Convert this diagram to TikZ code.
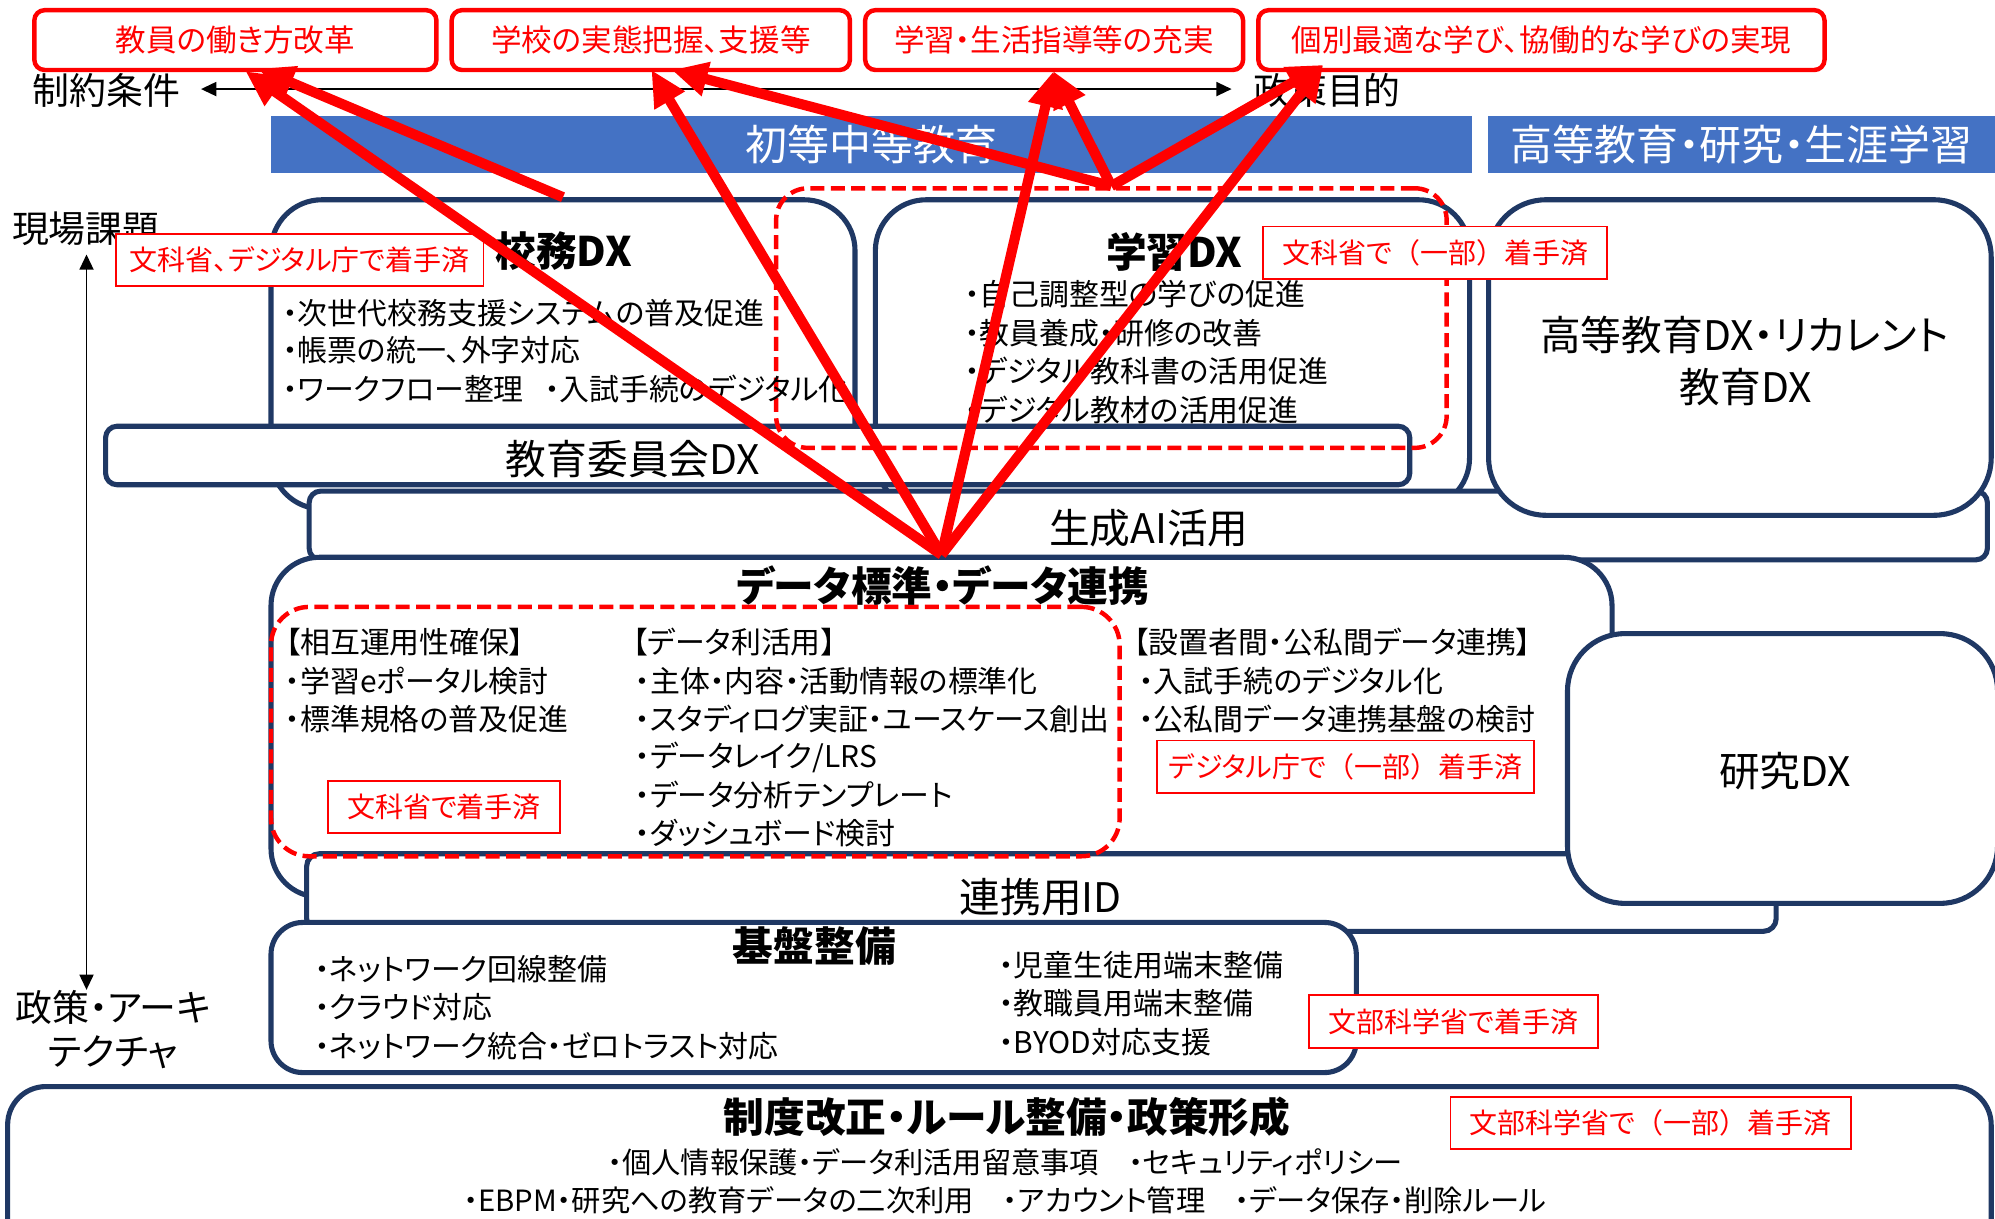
\documentclass[tikz,border=0pt]{standalone}
\usepackage{fontspec}
\setmainfont{Noto Sans CJK JP}[RawFeature=+palt]
\newfontfamily\nopalt{Noto Sans CJK JP}
\usetikzlibrary{arrows.meta,fit}
\definecolor{navy}{RGB}{31,56,100}
\definecolor{bannerblue}{RGB}{68,114,196}
\definecolor{pred}{RGB}{255,0,0}
\newcommand{\myfs}[1]{\fontsize{#1pt}{#1pt}\selectfont}
\newcommand{\lpar}{{\nopalt （}}
\newcommand{\rpar}{{\nopalt ）}}
\begin{document}
\begin{tikzpicture}[x=1pt,y=-1pt,
  navybox/.style={draw=navy,line width=4pt,fill=white,inner sep=0pt},
  goalbox/.style={draw=pred,line width=3.5pt,rounded corners=8pt,fill=white,text=pred,font=\myfs{24},minimum height=47pt,inner sep=0pt},
  donelabel/.style={draw=pred,line width=1.5pt,fill=white,text=pred,font=\myfs{22},minimum height=41pt,inner sep=0pt},
  bullet/.style={anchor=west,font=\myfs{23.5},inner sep=0pt},
  bigtext/.style={font=\myfs{32},inner sep=0pt},
  titletext/.style={font=\bfseries\myfs{32},inner sep=0pt},
  axislabel/.style={font=\myfs{29},inner sep=0pt},
  bannerbox/.style={fill=bannerblue,text=white,font=\myfs{33},minimum height=45pt,inner sep=0pt},
  redarrow/.style={draw=pred,line width=8pt,-{Triangle[length=28pt,width=26pt]}},
  axisarrow/.style={draw=black,line width=1.5pt,{Triangle[length=12pt,width=11pt]}-{Triangle[length=12pt,width=11pt]}},
  reddash/.style={draw=pred,line width=3.5pt,dash pattern=on 11pt off 5pt,inner sep=0pt},
]
\useasboundingbox (0,0) rectangle (1568,958);
\clip (0,0) rectangle (1568,958);

% banners
\node[bannerbox,minimum width=944pt] (ban1) at (685,113.5) {初等中等教育};
\node[bannerbox,minimum width=420pt,anchor=west] (ban2) at (1169,113.5) {};
\node[font=\myfs{33},text=white,inner sep=0pt] (ban2t) at (1369,113.5) {高等教育・研究・生涯学習};

% boxes
\node[navybox,rounded corners=40pt,fit={(213,157) (672,400)}] (koumu) {};
\node[navybox,rounded corners=40pt,fit={(688,157) (1155,400)}] (gakushu) {};
\node[navybox,rounded corners=9pt,fit={(83,335) (1108,381)}] (kyoiku) {};
\node[reddash,rounded corners=25pt,fit={(610,148) (1137,352)}] (dash1) {};
\node[navybox,rounded corners=9pt,fit={(243,386) (1562,440)}] (genai) {};
\node[navybox,rounded corners=45pt,fit={(1170,157) (1565,405)}] (koto) {};
\node[navybox,rounded corners=38pt,fit={(213,438) (1267,705)}] (data) {};
\node[navybox,rounded corners=10pt,fit={(241,671) (1396,732)}] (renkei) {};
\node[reddash,rounded corners=30pt,fit={(213,477) (880,673)}] (dash2) {};
\node[navybox,rounded corners=45pt,fit={(1232,498) (1570,710)}] (kenkyu) {};
\node[navybox,rounded corners=25pt,fit={(213,725) (1066,843)}] (kiban) {};
\node[navybox,rounded corners=30pt,fit={(6,854) (1565,1000)}] (seido) {};

% axis labels
\node[axislabel] (seiyaku) at (83.5,71) {制約条件};
\node[axislabel] (seisaku) at (1043,71) {政策目的};
\node[axislabel] (genba) at (67.5,180) {現場課題};
\node[axislabel] (arch1) at (89,792) {政策・アーキ};
\node[axislabel] (arch2) at (89,827) {テクチャ};
\coordinate (hl) at (158,70);
\coordinate (hr) at (968,70);
\coordinate (vt) at (68,200);
\coordinate (vb) at (68,778);
\draw[axisarrow] (hl) -- (hr);
\draw[axisarrow] (vt) -- (vb);

% goals
\node[goalbox,minimum width=316pt] (goal1) at (185,31.5) {教員の働き方改革};
\node[goalbox,minimum width=313pt] (goal2) at (511.5,31.5) {学校の実態把握、支援等};
\node[goalbox,minimum width=297pt] (goal3) at (828.5,31.5) {学習・生活指導等の充実};
\node[goalbox,minimum width=445pt] (goal4) at (1211.5,31.5) {個別最適な学び、協働的な学びの実現};

% 校務DX
\node[titletext] (koumut) at (443,197) {校務DX};
\node[bullet] (k1) at (222,246) {・次世代校務支援システムの普及促進};
\node[bullet] (k2) at (222,275) {・帳票の統一、外字対応};
\node[bullet] (k3) at (222,306) {・ワークフロー整理\hspace{0.7em}・入試手続のデジタル化};
% 学習DX
\node[titletext] (gakut) at (923,198) {学習DX};
\node[bullet] (g1) at (758,231) {・自己調整型の学びの促進};
\node[bullet] (g2) at (758,262) {・教員養成・研修の改善};
\node[bullet] (g3) at (758,292) {・デジタル教科書の活用促進};
\node[bullet] (g4) at (758,322) {・デジタル教材の活用促進};
% others
\node[bigtext] (kyoikut) at (497.5,361) {教育委員会DX};
\node[bigtext] (genait) at (903,415) {生成AI活用};
\node[bigtext] (koto1) at (1371,263) {高等教育DX・リカレント};
\node[bigtext] (koto2) at (1372,304) {教育DX};
% data
\node[titletext] (datat) at (741,460) {データ標準・データ連携};
\node[bullet] (d1) at (224,505) {【相互運用性確保】};
\node[bullet] (d2) at (224,535) {・学習eポータル検討};
\node[bullet] (d3) at (224,565) {・標準規格の普及促進};
\node[bullet] (d4) at (497,505) {【データ利活用】};
\node[bullet] (d5) at (499,535) {・主体・内容・活動情報の標準化};
\node[bullet] (d6) at (499,565) {・スタディログ実証・ユースケース創出};
\node[bullet] (d7) at (499,595) {・データレイク/LRS};
\node[bullet] (d8) at (499,625) {・データ分析テンプレート};
\node[bullet] (d9) at (499,655) {・ダッシュボード検討};
\node[bullet] (d10) at (891,505) {【設置者間・公私間データ連携】};
\node[bullet] (d11) at (895,535) {・入試手続のデジタル化};
\node[bullet] (d12) at (895,565) {・公私間データ連携基盤の検討};
\node[bigtext] (renkeit) at (818,705) {連携用ID};
\node[bigtext] (kenkyut) at (1403,606) {研究DX};
% kiban
\node[titletext] (kibant) at (640,744) {基盤整備};
\node[bullet] (b1) at (247,761.5) {・ネットワーク回線整備};
\node[bullet] (b2) at (247,791.5) {・クラウド対応};
\node[bullet] (b3) at (247,822) {・ネットワーク統合・ゼロトラスト対応};
\node[bullet] (b4) at (785,758.5) {・児童生徒用端末整備};
\node[bullet] (b5) at (785,788.5) {・教職員用端末整備};
\node[bullet] (b6) at (785,819.5) {・BYOD対応支援};
% seido
\node[titletext] (seidot) at (791.5,878) {制度改正・ルール整備・政策形成};
\node[font=\myfs{23},inner sep=0pt] (s1) at (790,913.5) {・個人情報保護・データ利活用留意事項　・セキュリティポリシー};
\node[font=\myfs{23},inner sep=0pt] (s2) at (790,943.5) {・EBPM・研究への教育データの二次利用　・アカウント管理　・データ保存・削除ルール};

% done labels
\node[donelabel,minimum width=289pt] (lab1) at (235.5,204.5) {文科省、デジタル庁で着手済};
\node[donelabel,minimum width=270pt] (lab2) at (1128,198.5) {文科省で\lpar 一部\rpar 着手済};
\node[donelabel,minimum width=182pt] (lab3) at (349,634.5) {文科省で着手済};
\node[donelabel,minimum width=297pt] (lab4) at (1057.5,602.5) {デジタル庁で\lpar 一部\rpar 着手済};
\node[donelabel,minimum width=227pt,minimum height=42pt] (lab5) at (1142.5,803) {文部科学省で着手済};
\node[donelabel,minimum width=315pt] (lab6) at (1297.5,882.5) {文部科学省で\lpar 一部\rpar 着手済};

% red arrows
\coordinate (tip1a) at (193,56);
\coordinate (tip1b) at (203,54);
\coordinate (tip2a) at (512,55);
\coordinate (tip2b) at (528,55);
\coordinate (tip3) at (828,56);
\coordinate (tip4) at (1040,51);
\draw[redarrow] (data.north) -- (tip1a);
\draw[redarrow] (data.north) -- (tip2a);
\draw[redarrow] (data.north) -- (tip3);
\draw[redarrow] (data.north) -- (tip4);
\draw[redarrow] (dash1.north) -- (tip2b);
\draw[redarrow] (dash1.north) -- (tip3);
\draw[redarrow] (dash1.north) -- (tip4);
\draw[redarrow] (koumu.north) -- (tip1b);
\end{tikzpicture}
\end{document}
